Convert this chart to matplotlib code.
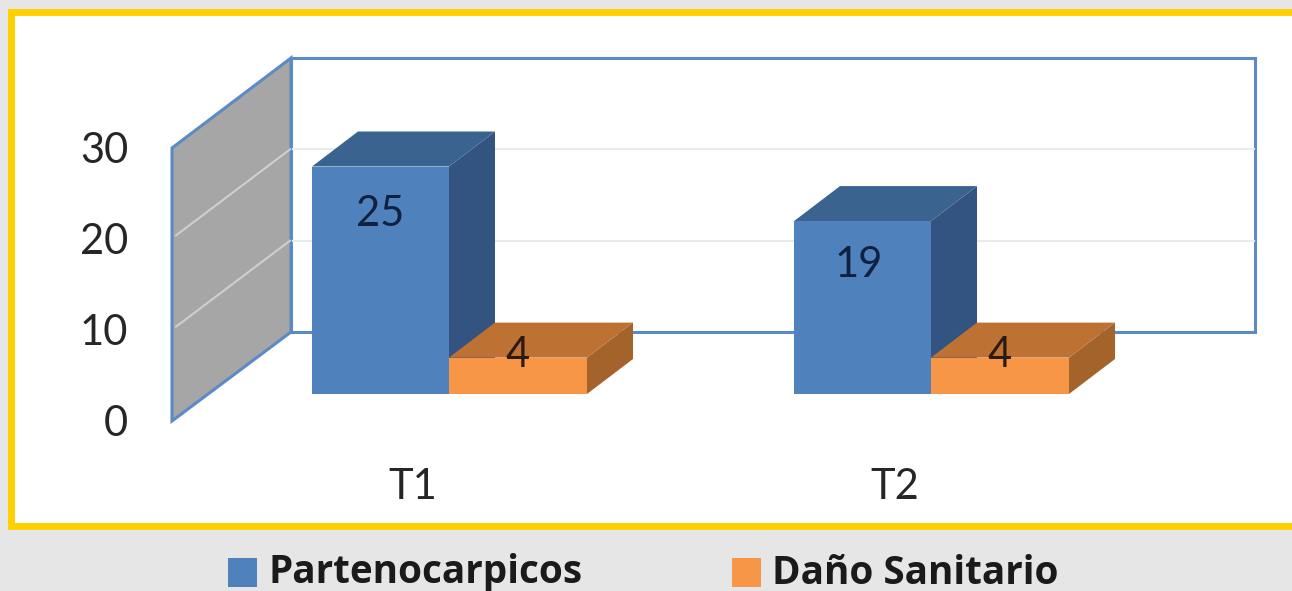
import matplotlib
matplotlib.use('Agg')
import matplotlib.pyplot as plt
from matplotlib.patches import Polygon, Rectangle

categories = ['T1', 'T2']
partenocarpicos = [25, 19]
dano_sanitario = [4, 4]
y_ticks = [0, 10, 20, 30]
legend_labels = ['Partenocarpicos', 'Daño Sanitario']

W, H = 1292, 591
plt.rcParams['font.family'] = ['Lato', 'DejaVu Sans']

fig = plt.figure(figsize=(W / 100, H / 100), dpi=100, facecolor='#e6e6e6')
ax = fig.add_axes([0, 0, 1, 1])
ax.set_xlim(0, W)
ax.set_ylim(H, 0)
ax.axis('off')

# white panel with yellow frame
ax.add_patch(Rectangle((11, 12), W + 20, 514, fc='white', ec='#ffd000', lw=5))


def fy(v):
    return 394 - v * 9.1


# back wall and side wall
edge = '#5b8bc6'
ax.add_patch(Polygon([(172, 148), (291, 58), (291, 332), (172, 421)], fc='#a6a6a6', ec=edge, lw=2.2))
ax.add_patch(Polygon([(291, 58), (1255, 58), (1255, 332), (291, 332)], fc='white', ec=edge, lw=2.2))

# gridlines, the top one is the edge of the wall
for v in y_ticks[1:-1]:
    yb = 332 - v * 9.13
    ax.plot([293, 1254], [yb, yb], color='#e8ecec', lw=1.5)
    ax.plot([176, 290], [421 - v * 9.13 - 3, yb], color='#cfcfcf', lw=1.5)

for v in y_ticks:
    ax.text(128, 424 - v * 9.1, str(v), ha='right', va='center', fontsize=30, color='#262626')


def bar3d(x0, x1, v, front, top, side, depth=(46, -35)):
    yb = 394
    yt = fy(v)
    ddx, ddy = depth
    ax.add_patch(Polygon([(x1, yb), (x1, yt), (x1 + ddx, yt + ddy), (x1 + ddx, yb + ddy)], fc=side, ec='none', zorder=3))
    ax.add_patch(Polygon([(x0, yt), (x1, yt), (x1 + ddx, yt + ddy), (x0 + ddx, yt + ddy)], fc=top, ec='none', zorder=3))
    ax.add_patch(Rectangle((x0, yt), x1 - x0, yb - yt, fc=front, ec='none', zorder=3))


bar_left = [312, 794]
bar_w = 137
label_off = [(68, 214), (65, 265)]
orange_label_y = 355

for i, cat in enumerate(categories):
    x = bar_left[i]
    bar3d(x, x + bar_w, partenocarpicos[i], '#4f81bd', '#3b6390', '#335480')
    bar3d(x + bar_w, x + 2 * bar_w + 1, dano_sanitario[i], '#f79646', '#bd7233', '#a4632b')
    ax.text(x + label_off[i][0], label_off[i][1], str(partenocarpicos[i]), ha='center', va='center',
            fontsize=30, color='#10213f', zorder=5)
    ax.text(x + bar_w + 69, orange_label_y, str(dano_sanitario[i]), ha='center', va='center',
            fontsize=30, color='#2a1a10', zorder=5)
    ax.text(x + 101, 487, cat, ha='center', va='center', fontsize=30, color='#262626')

# legend
legend_font = ['Open Sans', 'DejaVu Sans']
ax.add_patch(Rectangle((228, 558), 29, 29, fc='#4f81bd', ec='none'))
ax.add_patch(Rectangle((732, 558), 29, 29, fc='#f79646', ec='none'))
ax.text(269, 573, legend_labels[0], ha='left', va='center', fontsize=27.8, fontweight='bold',
        color='#1a1a1a', family=legend_font)
ax.text(772, 573, legend_labels[1], ha='left', va='center', fontsize=27.8, fontweight='bold',
        color='#1a1a1a', family=legend_font)

fig.savefig('out.png', dpi=100, facecolor=fig.get_facecolor())
